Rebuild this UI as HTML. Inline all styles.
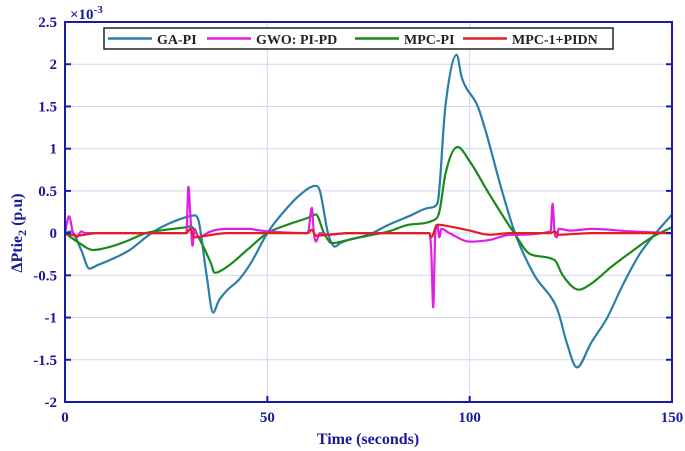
<!DOCTYPE html>
<html><head><meta charset="utf-8"><style>
body{margin:0;background:#fff;}
svg{display:block;font-family:"Liberation Serif",serif;font-weight:bold;}
</style></head><body>
<svg id="chart" width="685" height="451">
<g id="grid"></g>
<g id="series"></g>
<g id="axes"></g>
<text x="70" y="19" font-size="15" fill="#1a1a99">×10<tspan dy="-6" font-size="11">-3</tspan></text>
<text x="368" y="444" text-anchor="middle" font-size="16" fill="#1a1a99">Time (seconds)</text>
<text transform="translate(22,233) rotate(-90)" text-anchor="middle" font-size="16" fill="#1a1a99">ΔPtie<tspan dy="4" font-size="12">2</tspan><tspan dy="-4"> (p.u)</tspan></text>
<g>
<rect x="104" y="28" width="509" height="21" fill="#fff" stroke="#222" stroke-width="1.5"/>
<g><line x1="108" y1="38.5" x2="152" y2="38.5" stroke="#2a7fa8" stroke-width="2.5"/><text x="157" y="44" font-size="14" fill="#222">GA-PI</text></g>
<g><line x1="207" y1="38.5" x2="251" y2="38.5" stroke="#e020e0" stroke-width="2.5"/><text x="256" y="44" font-size="14" fill="#222">GWO: PI-PD</text></g>
<g><line x1="355" y1="38.5" x2="399" y2="38.5" stroke="#1a8a1a" stroke-width="2.5"/><text x="404" y="44" font-size="14" fill="#222">MPC-PI</text></g>
<g><line x1="463" y1="38.5" x2="507" y2="38.5" stroke="#e02020" stroke-width="2.5"/><text x="512" y="44" font-size="14" fill="#222">MPC-1+PIDN</text></g>
</g>
</svg>
<script>
const xTicks=[0,50,100,150];
const yTicks=[-2,-1.5,-1,-0.5,0,0.5,1,1.5,2,2.5];
const yTickLabels=["-2","-1.5","-1","-0.5","0","0.5","1","1.5","2","2.5"];
const gaT=[0,1.5,4,6,8,12,16,20,22,26,30,32,33,35,36.6,38,40,43,46,50,54,58,62,63,65,66.7,68,70,75,80,85,90,92,94,96.8,98,102,104,108,111.2,116,121,122,124,126.5,130,134,138,142,146,150];
const gaV=[0,0.02,-0.2,-0.42,-0.38,-0.3,-0.2,-0.05,0.02,0.12,0.19,0.21,0.15,-0.5,-0.94,-0.8,-0.68,-0.55,-0.35,0,0.25,0.45,0.56,0.5,0,-0.16,-0.12,-0.08,-0.02,0.1,0.2,0.3,0.35,1.5,2.11,1.85,1.5,1.2,0.5,0,-0.5,-0.83,-0.95,-1.3,-1.59,-1.3,-1.0,-0.6,-0.25,0,0.22];
const mpcT=[0,3,7,12,16,20,25,30,31,33,36,37,40,45,50,55,60,62,64,66,70,75,80,85,91,92.5,94,97,100,105,111,115,121,123,127,130,135,140,145,150];
const mpcV=[0,-0.1,-0.2,-0.15,-0.08,0,0.04,0.07,0.08,-0.05,-0.35,-0.47,-0.4,-0.2,0,0.1,0.18,0.22,0,-0.12,-0.08,-0.03,0.02,0.1,0.15,0.25,0.7,1.02,0.85,0.45,0,-0.25,-0.32,-0.5,-0.67,-0.6,-0.4,-0.22,-0.05,0.07];
const gwoT=[0,1,2,3,4,5,30,30.5,31,31.5,32,33,36,40,45,50,60,61,61.5,62,63,65,70,90,90.5,91,91.5,92,92.5,93,95,100,105,110,120,120.5,121,121.5,122,125,130,140,150];
const gwoV=[0,0.2,0,-0.05,0.02,0,0,0.55,0.2,-0.15,0.05,-0.05,0.02,0.05,0.05,0.02,0,0.3,0,-0.1,0,-0.02,0,0,-0.2,-0.88,0,0.1,-0.05,0.05,0,-0.1,-0.08,-0.02,0.02,0.35,0,-0.05,0.05,0.03,0.05,0.02,0];
const redT=[0,3,8,30,31,32,35,40,60,61,62,70,90,90.5,92,95,100,105,110,120,121,122,130,150];
const redV=[0,-0.03,0,0,0.05,-0.05,-0.03,0,0,0.04,-0.03,0,0,-0.05,0.1,0.08,0.03,-0.02,0,0,0.02,-0.02,0,0];
const X0=65,X1=672,Y0=402,Y1=22;
const xs=t=>X0+(t-0)/150*(X1-X0);
const ys=v=>Y0-(v+2)/4.5*(Y0-Y1);
const NS="http://www.w3.org/2000/svg";
const grid=document.getElementById('grid'),axes=document.getElementById('axes'),ser=document.getElementById('series');
function mk(tag,attrs,parent){const e=document.createElementNS(NS,tag);for(const k in attrs)e.setAttribute(k,attrs[k]);parent.appendChild(e);return e;}
xTicks.forEach(t=>{
 const g=mk('line',{x1:xs(t),x2:xs(t),y1:Y1,y2:Y0,stroke:'#d4d4f4','stroke-width':1},grid);
 
 
 const tk=mk('line',{x1:xs(t),x2:xs(t),y1:Y0,y2:Y0-6,stroke:'#1a1aa8','stroke-width':2},axes);
 
 
 const l=mk('text',{x:xs(t),y:Y0+20,'text-anchor':'middle','font-size':15,fill:'#1a1a99'},axes);
 l.textContent=t;
 
 
});
yTicks.forEach((v,i)=>{
 const g=mk('line',{x1:X0,x2:X1,y1:ys(v),y2:ys(v),stroke:'#d4d4f4','stroke-width':1},grid);
 
 
 const tk=mk('line',{x1:X0,x2:X0+6,y1:ys(v),y2:ys(v),stroke:'#1a1aa8','stroke-width':2},axes);
 
 
 const tk2=mk('line',{x1:X1,x2:X1-6,y1:ys(v),y2:ys(v),stroke:'#1a1aa8','stroke-width':2},axes);
 
 
 const l=mk('text',{x:X0-8,y:ys(v)+5,'text-anchor':'end','font-size':15,fill:'#1a1a99'},axes);
 l.textContent=yTickLabels[i];
 
 
});
const frame=mk('rect',{x:X0,y:Y1,width:X1-X0,height:Y0-Y1,fill:'none',stroke:'#1a1aa8','stroke-width':2},axes);


function monoPath(px,py){
 const n=px.length,d=[],m=[];
 for(let i=0;i<n-1;i++)d.push((py[i+1]-py[i])/(px[i+1]-px[i]));
 m[0]=d[0];m[n-1]=d[n-2];
 for(let i=1;i<n-1;i++)m[i]=(d[i-1]*d[i]<=0)?0:(d[i-1]+d[i])/2;
 for(let i=0;i<n-1;i++){if(d[i]===0){m[i]=0;m[i+1]=0;continue;}const a=m[i]/d[i],b=m[i+1]/d[i],s=a*a+b*b;if(s>9){const t=3/Math.sqrt(s);m[i]=t*a*d[i];m[i+1]=t*b*d[i];}}
 let s='M'+px[0].toFixed(1)+','+py[0].toFixed(1);
 for(let i=0;i<n-1;i++){const h=(px[i+1]-px[i])/3;s+=' C'+(px[i]+h).toFixed(1)+','+(py[i]+m[i]*h).toFixed(1)+' '+(px[i+1]-h).toFixed(1)+','+(py[i+1]-m[i+1]*h).toFixed(1)+' '+px[i+1].toFixed(1)+','+py[i+1].toFixed(1);}
 return s;
}
function line(T,V,color,name){
 const d=monoPath(T.map(xs),V.map(ys));
 const p=mk('path',{d:d,fill:'none',stroke:color,'stroke-width':2.2,'stroke-linejoin':'round'},ser);
 
 
}
line(gaT,gaV,'#2a7fa8','ga-pi-line');
line(mpcT,mpcV,'#1a8a1a','mpc-pi-line');
line(gwoT,gwoV,'#e020e0','gwo-pi-pd-line');
line(redT,redV,'#e02020','mpc-pidn-line');
</script>
</body></html>
